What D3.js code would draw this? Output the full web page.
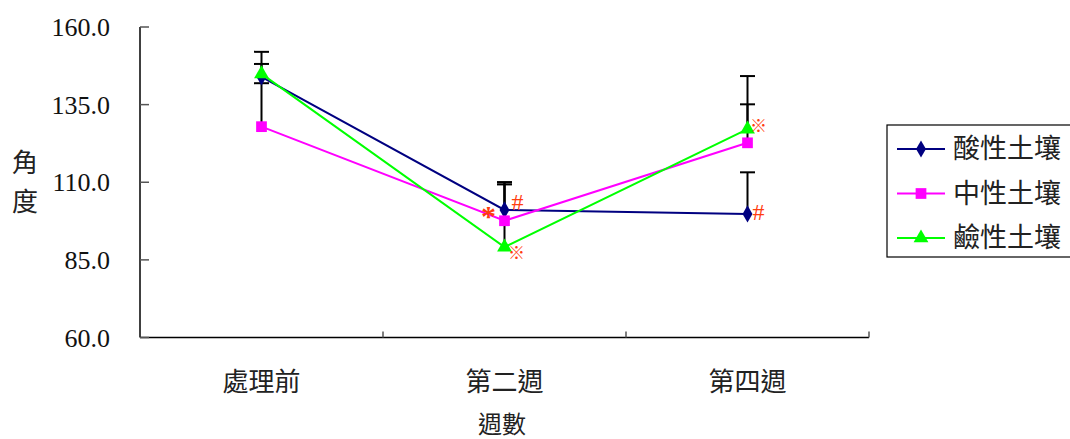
<!DOCTYPE html>
<html>
<head>
<meta charset="utf-8">
<script src="https://cdn.jsdelivr.net/npm/d3@7"></script>
<style>
  body { margin: 0; background: #ffffff; }
  svg { display: block; font-family: "Liberation Serif", "Noto Sans CJK TC", serif; }
</style>
</head>
<body>
<svg id="chart" width="1070" height="439"></svg>
<script>
// Categories on the x axis.
const weeks = ["處理前", "第二週", "第四週"];
const yTicks = [60, 85, 110, 135, 160];
// Series names.
const seriesNames = ["酸性土壤", "中性土壤", "鹼性土壤"];
// Mean angle per week, and the plus error bar length.
const acidValues = [143.9, 101.1, 99.8];
const acidErrors = [4.2, 8.9, 13.4];
const neutralValues = [127.9, 97.6, 122.7];
const neutralErrors = [14.0, 11.7, 12.4];
const alkaliValues = [144.9, 89.1, 127.1];
const alkaliErrors = [7.1, 20.9, 17.1];
// Significance marks beside the points: week index, series index, symbol.
const markWeeks = [1, 1, 1, 2, 2];
const markSeries = [1, 0, 2, 2, 0];
const markSymbols = ["*", "#", "※", "※", "#"];

// Where each mark sits relative to its point (pixels).
const markShift = [[-16, -16], [13, -8], [12, 6], [11, -3], [11, -2]];

const series = [
  { name: seriesNames[0], values: acidValues, errors: acidErrors, color: "#000080", shape: d3.symbolDiamond, size: 85 },
  { name: seriesNames[1], values: neutralValues, errors: neutralErrors, color: "#ff00ff", shape: d3.symbolSquare, size: 115 },
  { name: seriesNames[2], values: alkaliValues, errors: alkaliErrors, color: "#00ff00", shape: d3.symbolTriangle, size: 95 }
];

const svg = d3.select("#chart");
const plot = { left: 140, right: 869, top: 27, bottom: 337.5 };

// Scales.
const x = d3.scaleBand()
  .domain(weeks)
  .range([plot.left, plot.right]);
const y = d3.scaleLinear()
  .domain([60, 160])
  .range([plot.bottom, plot.top]);
const cx = w => x(w) + x.bandwidth() / 2;

// Axes lines.
svg.append("line")
  .attr("x1", plot.left).attr("x2", plot.left)
  .attr("y1", plot.top).attr("y2", plot.bottom)
  .attr("stroke", "#000").attr("stroke-width", 1.5);
svg.append("line")
  .attr("x1", plot.left).attr("x2", plot.right)
  .attr("y1", plot.bottom).attr("y2", plot.bottom)
  .attr("stroke", "#000").attr("stroke-width", 1.5);

// Y ticks point inward, labels on the left.
yTicks.forEach(t => {
  svg.append("line")
    .attr("x1", plot.left).attr("x2", plot.left + 9)
    .attr("y1", y(t)).attr("y2", y(t))
    .attr("stroke", "#555").attr("stroke-width", 1.5);
  svg.append("text")
    .attr("x", 110)
    .attr("y", y(t))
    .attr("dy", "0.35em")
    .attr("text-anchor", "end")
    .attr("font-size", "26px")
    .attr("fill", "#111")
    .text(t.toFixed(1));
});

// X ticks at the band boundaries.
weeks.forEach(w => {
  const bx = x(w) + x.bandwidth();
  svg.append("line")
    .attr("x1", bx).attr("x2", bx)
    .attr("y1", plot.bottom).attr("y2", plot.bottom - 6)
    .attr("stroke", "#555").attr("stroke-width", 1.5);
  svg.append("text")
    .attr("x", cx(w))
    .attr("y", 382)
    .attr("dy", "0.35em")
    .attr("text-anchor", "middle")
    .attr("font-size", "26px")
    .attr("fill", "#222")
    .text(w);
});

// Axis titles.
svg.append("text")
  .attr("x", 502).attr("y", 425)
  .attr("dy", "0.35em")
  .attr("text-anchor", "middle")
  .attr("font-size", "24px")
  .attr("fill", "#222")
  .text("週數");
["角", "度"].forEach((c, i) => {
  svg.append("text")
    .attr("x", 25).attr("y", 163 + i * 39)
    .attr("dy", "0.35em")
    .attr("text-anchor", "middle")
    .attr("font-size", "26px")
    .attr("fill", "#222")
    .text(c);
});

// Error bars (plus direction only).
series.forEach(s => {
  weeks.forEach((w, i) => {
    const top = y(s.values[i] + s.errors[i]);
    svg.append("line")
      .attr("x1", cx(w)).attr("x2", cx(w))
      .attr("y1", y(s.values[i])).attr("y2", top)
      .attr("stroke", "#000").attr("stroke-width", 2);
    svg.append("line")
      .attr("x1", cx(w) - 7.5).attr("x2", cx(w) + 7.5)
      .attr("y1", top).attr("y2", top)
      .attr("stroke", "#000").attr("stroke-width", 2);
  });
});

// Lines and markers.
const line = d3.line()
  .x((d, i) => cx(weeks[i]))
  .y(d => y(d));
series.forEach(s => {
  svg.append("path")
    .datum(s.values)
    .attr("d", line)
    .attr("fill", "none")
    .attr("stroke", s.color)
    .attr("stroke-width", 2);
});
series.forEach(s => {
  svg.selectAll(null)
    .data(s.values)
    .join("path")
    .attr("transform", (d, i) => `translate(${cx(weeks[i])},${y(d)})`)
    .attr("d", d3.symbol().type(s.shape).size(s.size))
    .attr("fill", s.color);
});

// Significance marks.
markSymbols.forEach((sym, k) => {
  const s = series[markSeries[k]];
  const wi = markWeeks[k];
  svg.append("text")
    .attr("x", cx(weeks[wi]) + markShift[k][0])
    .attr("y", y(s.values[wi]) + markShift[k][1])
    .attr("dy", sym === "*" ? "0.7em" : "0.35em")
    .attr("text-anchor", "middle")
    .attr("font-size", sym === "※" ? "17px" : sym === "*" ? "30px" : "24px")
    .attr("font-weight", sym === "*" ? "bold" : "normal")
    .attr("fill", "#ff3d0f")
    .text(sym);
});

// Legend.
const legend = svg.append("g");
legend.append("rect")
  .attr("x", 887).attr("y", 125)
  .attr("width", 190).attr("height", 132)
  .attr("fill", "#fff")
  .attr("stroke", "#000").attr("stroke-width", 1.2);
series.forEach((s, i) => {
  const ly = 149 + i * 44.5;
  legend.append("line")
    .attr("x1", 897).attr("x2", 945)
    .attr("y1", ly).attr("y2", ly)
    .attr("stroke", s.color).attr("stroke-width", 2);
  legend.append("path")
    .attr("transform", `translate(921,${ly})`)
    .attr("d", d3.symbol().type(s.shape).size(s.size))
    .attr("fill", s.color);
  legend.append("text")
    .attr("x", 953).attr("y", ly)
    .attr("dy", "0.35em")
    .attr("font-size", "27px")
    .attr("fill", "#222")
    .text(s.name);
});
</script>
</body>
</html>
